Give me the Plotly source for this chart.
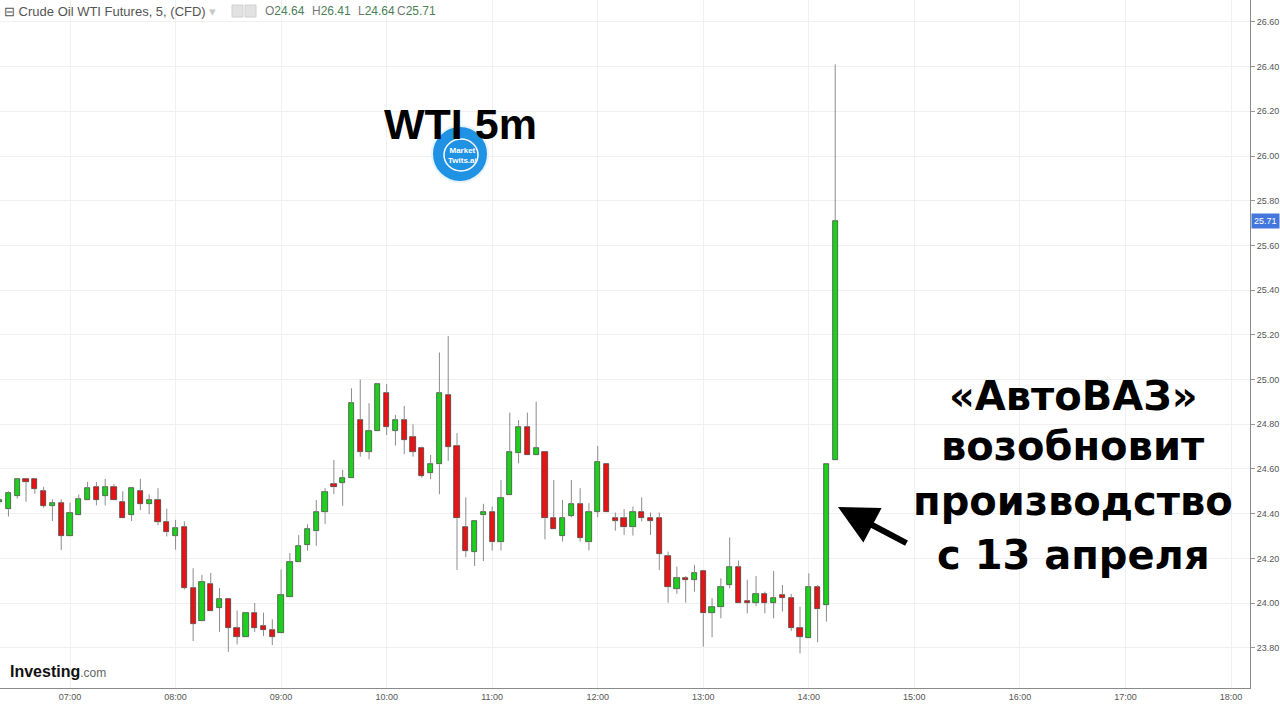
import pandas as pd
import plotly.graph_objects as go

# ---------------- data ----------------
START = "2020-04-02 06:20"
OPEN = [24.45, 24.42, 24.48, 24.555, 24.555, 24.50, 24.434, 24.446, 24.301, 24.394,
        24.461, 24.52, 24.481, 24.52, 24.452, 24.394, 24.50, 24.444, 24.461, 24.364,
        24.302, 24.342, 24.067, 23.919, 24.084, 23.978, 24.016, 23.889, 23.849, 23.957,
        23.898, 23.879, 23.868, 24.027, 24.185, 24.259, 24.321, 24.409, 24.531, 24.539,
        24.558, 24.819, 24.678, 24.772, 24.939, 24.772, 24.819, 24.742, 24.693, 24.581,
        24.621, 24.931, 24.703, 24.339, 24.230, 24.393, 24.409, 24.271, 24.484, 24.670,
        24.789, 24.661, 24.678, 24.379, 24.30, 24.391, 24.442, 24.271, 24.409, 24.623,
        24.380, 24.380, 24.339, 24.409, 24.380, 24.380, 24.211, 24.062, 24.111, 24.104,
        24.144, 23.957, 23.981, 24.081, 24.160, 24.011, 24.0, 24.041, 24.0, 24.035,
        24.022, 23.890, 23.843, 24.071, 23.992, 24.64]
HIGH = [24.47, 24.50, 24.56, 24.56, 24.56, 24.52, 24.464, 24.464, 24.449, 24.486,
        24.542, 24.542, 24.556, 24.533, 24.50, 24.514, 24.556, 24.486, 24.514, 24.422,
        24.372, 24.366, 24.156, 24.126, 24.135, 24.067, 24.016, 23.967, 23.957, 24.00,
        23.957, 23.927, 24.15, 24.224, 24.304, 24.352, 24.461, 24.514, 24.640, 24.596,
        24.961, 25.0, 24.894, 24.98, 24.98, 24.842, 24.882, 24.80, 24.70, 24.663,
        25.121, 25.195, 24.76, 24.473, 24.369, 24.444, 24.432, 24.551, 24.852, 24.819,
        24.852, 24.901, 24.678, 24.551, 24.461, 24.551, 24.514, 24.447, 24.703, 24.623,
        24.405, 24.420, 24.432, 24.473, 24.405, 24.405, 24.230, 24.163, 24.121, 24.171,
        24.144, 24.022, 24.111, 24.294, 24.190, 24.104, 24.121, 24.051, 24.144, 24.081,
        24.041, 23.984, 24.133, 24.081, 24.623, 26.41]
LOW = [24.44, 24.387, 24.467, 24.453, 24.489, 24.427, 24.367, 24.237, 24.30, 24.394,
       24.461, 24.437, 24.437, 24.461, 24.382, 24.367, 24.416, 24.397, 24.348, 24.298,
       24.239, 24.061, 23.83, 23.919, 23.964, 23.871, 23.782, 23.815, 23.849, 23.871,
       23.853, 23.812, 23.868, 24.027, 24.185, 24.235, 24.256, 24.354, 24.487, 24.435,
       24.558, 24.655, 24.643, 24.772, 24.752, 24.705, 24.666, 24.655, 24.561, 24.554,
       24.487, 24.636, 24.148, 24.205, 24.166, 24.188, 24.235, 24.235, 24.484, 24.625,
       24.661, 24.661, 24.285, 24.332, 24.275, 24.384, 24.275, 24.235, 24.384, 24.409,
       24.324, 24.305, 24.302, 24.365, 24.305, 24.148, 24.002, 24.041, 24.002, 24.051,
       23.805, 23.847, 23.932, 24.066, 24.0, 23.954, 23.987, 23.954, 23.932, 23.962,
       23.875, 23.775, 23.843, 23.825, 23.917, 24.64]
CLOSE = [24.46, 24.493, 24.553, 24.541, 24.511, 24.434, 24.446, 24.301, 24.404, 24.464,
         24.514, 24.461, 24.52, 24.461, 24.382, 24.514, 24.444, 24.461, 24.364, 24.316,
         24.335, 24.067, 23.908, 24.096, 23.964, 24.016, 23.889, 23.849, 23.957, 23.889,
         23.879, 23.849, 24.037, 24.185, 24.256, 24.333, 24.409, 24.499, 24.518, 24.558,
         24.894, 24.678, 24.772, 24.98, 24.789, 24.819, 24.730, 24.678, 24.569, 24.621,
         24.939, 24.70, 24.379, 24.233, 24.369, 24.409, 24.271, 24.472, 24.678, 24.789,
         24.661, 24.693, 24.379, 24.332, 24.379, 24.444, 24.290, 24.409, 24.633, 24.409,
         24.369, 24.339, 24.409, 24.380, 24.369, 24.220, 24.071, 24.111, 24.104, 24.133,
         23.954, 23.981, 24.071, 24.160, 24.0, 24.0, 24.041, 24.0, 24.022, 24.022,
         23.890, 23.850, 24.071, 23.972, 24.623, 25.71]

X_TICKS = ["07:00", "08:00", "09:00", "10:00", "11:00", "12:00",
           "13:00", "14:00", "15:00", "16:00", "17:00", "18:00"]
Y_TICKS = [23.80, 24.00, 24.20, 24.40, 24.60, 24.80, 25.00,
           25.20, 25.40, 25.60, 25.80, 26.00, 26.20, 26.40, 26.60]
LAST_PRICE = 25.71
HEADER_NAME = "Crude Oil WTI Futures, 5, (CFD)"
OHLC_LABELS = ["O", "H", "L", "C"]
OHLC_VALUES = ["24.64", "26.41", "24.64", "25.71"]
TITLE = "WTI 5m"
NEWS_LINES = ["«АвтоВАЗ»", "возобновит", "производство", "с 13 апреля"]

# ---------------- build ----------------
DAY = "2020-04-02"
times = pd.date_range(START, periods=len(OPEN), freq="5min")
GREEN, RED = "#1fcf1f", "#e51515"

# wicks split into upper and lower parts so they never cross the bodies
wx, wy = [], []
for t, o, h, l, c in zip(times, OPEN, HIGH, LOW, CLOSE):
    top, bot = max(o, c), min(o, c)
    if h > top:
        wx += [t, t, None]
        wy += [top, h, None]
    if l < bot:
        wx += [t, t, None]
        wy += [l, bot, None]

bases = [min(o, c) for o, c in zip(OPEN, CLOSE)]
heights = [max(abs(c - o), 0.004) for o, c in zip(OPEN, CLOSE)]
colors = [GREEN if c >= o else RED for o, c in zip(OPEN, CLOSE)]

fig = go.Figure()
fig.add_trace(go.Scatter(x=wx, y=wy, mode="lines",
                         line=dict(color="#8c8c8c", width=1),
                         hoverinfo="skip", showlegend=False))
fig.add_trace(go.Bar(x=times, y=heights, base=bases, width=180000,
                     marker=dict(color=colors, line=dict(color="#3a3a3a", width=0.7)),
                     hoverinfo="skip", showlegend=False))

W, H = 1250.0, 688.0  # plot-area size in px


def px(x):
    return x / W


def py(y):
    return 1 - y / H


ann = []
shapes = []

# header
ann.append(dict(x=px(2), y=py(11), xref="paper", yref="paper", xanchor="left", yanchor="middle",
                text="⊟ " + HEADER_NAME + " <span style='color:#c8c8c8'>▾</span>",
                showarrow=False, font=dict(family="Liberation Sans, Arial", size=13, color="#555555")))
for x0 in (232, 245):
    shapes.append(dict(type="rect", xref="paper", yref="paper",
                       x0=px(x0), x1=px(x0 + 11), y0=py(17), y1=py(5),
                       fillcolor="#e2e2e2", line=dict(color="#d0d0d0", width=1), layer="above"))
for xx, lab, val in zip((263, 310, 356, 395), OHLC_LABELS, OHLC_VALUES):
    ann.append(dict(x=px(xx), y=py(11), xref="paper", yref="paper", xanchor="left", yanchor="middle",
                    text=f"{lab}<span style='color:#4a7f58'>{val}</span>",
                    showarrow=False, font=dict(family="Liberation Sans, Arial", size=12, color="#777777")))

# Market Twits logo
shapes.append(dict(type="circle", xref="paper", yref="paper",
                   x0=px(432), x1=px(488), y0=py(182), y1=py(126),
                   fillcolor="#1f92e4", line=dict(color="#e8f3fc", width=2), layer="above"))
shapes.append(dict(type="circle", xref="paper", yref="paper",
                   x0=px(444), x1=px(478), y0=py(171), y1=py(139),
                   fillcolor="rgba(0,0,0,0)", line=dict(color="white", width=1.5), layer="above"))
ann.append(dict(x=px(462), y=py(156), xref="paper", yref="paper", xanchor="center", yanchor="middle",
                text="<b>Market<br>Twits.ai</b>", showarrow=False,
                font=dict(family="Liberation Sans, Arial", size=8, color="white")))
ann.append(dict(x=px(460), y=py(124), xref="paper", yref="paper", xanchor="center", yanchor="middle",
                text=f"<b>{TITLE}</b>", showarrow=False, height=40,
                font=dict(family="Liberation Sans, Arial", size=43, color="black")))

# news text, one annotation per line
for line, yc in zip(NEWS_LINES, (396, 446, 501, 555)):
    ann.append(dict(x=px(1073), y=py(yc), xref="paper", yref="paper", xanchor="center", yanchor="middle",
                    text=f"<b>{line}</b>", showarrow=False,
                    font=dict(family="DejaVu Sans", size=40, color="black")))

# arrow
ann.append(dict(x=px(838), y=py(507), xref="paper", yref="paper", text="",
                showarrow=True, ax=70, ay=37, axref="pixel", ayref="pixel",
                arrowhead=2, arrowsize=1.3, arrowwidth=6, arrowcolor="black", standoff=0))

# Investing.com
ann.append(dict(x=px(8), y=py(671), xref="paper", yref="paper", xanchor="left", yanchor="middle",
                text="<b>Investing</b><span style='font-size:12px;color:#666666'>.com</span>",
                showarrow=False, font=dict(family="Liberation Sans, Arial", size=16, color="#111111")))

# last price label
ann.append(dict(x=1, y=LAST_PRICE, xref="paper", yref="y", xanchor="left", yanchor="middle",
                xshift=1, text=f"{LAST_PRICE:.2f}", showarrow=False, bgcolor="#4477dd",
                borderpad=2, font=dict(family="Liberation Sans, Arial", size=9, color="white")))

fig.update_layout(
    width=1280, height=705,
    margin=dict(l=0, r=30, t=0, b=17),
    paper_bgcolor="white", plot_bgcolor="white",
    bargap=0, showlegend=False,
    annotations=ann, shapes=shapes,
    font=dict(family="Liberation Sans, Arial", size=9, color="#555555"),
)
fig.update_xaxes(
    type="date",
    range=[f"{DAY} 06:20:12", f"{DAY} 18:10:48"],
    tickmode="array",
    tickvals=[f"{DAY} {t}" for t in X_TICKS],
    ticktext=X_TICKS,
    showgrid=True, gridcolor="#f0f0f0", gridwidth=1,
    showline=True, linecolor="#8a8a8a", linewidth=1,
    ticks="", tickfont=dict(size=9, color="#555555"),
    zeroline=False, fixedrange=True,
)
fig.update_yaxes(
    side="right",
    range=[23.62, 26.698],
    tickmode="array",
    tickvals=Y_TICKS,
    ticktext=[f"{v:.2f}" for v in Y_TICKS],
    showgrid=True, gridcolor="#f0f0f0", gridwidth=1,
    showline=True, linecolor="#8a8a8a", linewidth=1,
    ticks="outside", ticklen=4, tickcolor="#9a9a9a",
    tickfont=dict(size=9, color="#555555"),
    zeroline=False, fixedrange=True,
)

fig.write_html("out.html", config={"displayModeBar": False},
               post_script="document.body.style.margin='0';document.body.style.overflow='hidden';")
